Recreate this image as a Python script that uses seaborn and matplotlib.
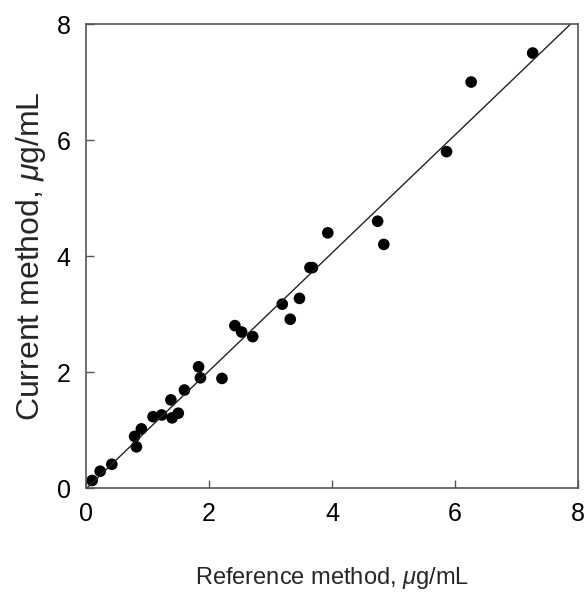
import numpy as np
import pandas as pd
import matplotlib
matplotlib.use("Agg")
import matplotlib.pyplot as plt
import seaborn as sns

# values
reference = [0.10, 0.23, 0.42, 0.79, 0.82, 0.90, 1.09, 1.23, 1.38, 1.40, 1.50,
             1.60, 1.83, 1.86, 2.21, 2.42, 2.53, 2.71, 3.19, 3.32, 3.47, 3.64,
             3.68, 3.93, 4.74, 4.84, 5.86, 6.26, 7.26]
current = [0.13, 0.29, 0.41, 0.89, 0.71, 1.02, 1.23, 1.26, 1.52, 1.21, 1.29,
           1.69, 2.09, 1.90, 1.89, 2.80, 2.69, 2.61, 3.17, 2.91, 3.27, 3.80,
           3.80, 4.40, 4.60, 4.20, 5.80, 7.00, 7.50]
ticks = [0, 2, 4, 6, 8]

data = pd.DataFrame({"reference": reference, "current": current})

sns.set_style("ticks")
plt.rcParams["font.family"] = ["Liberation Sans", "DejaVu Sans"]
plt.rcParams["mathtext.fontset"] = "custom"
plt.rcParams["mathtext.rm"] = "Liberation Sans"
plt.rcParams["mathtext.it"] = "Liberation Sans:italic"

fig = plt.figure(figsize=(5.87, 5.93), dpi=100)
ax = fig.add_axes([0.1465, 0.177, 0.8385, 0.7825])
ax.set_xlim(0, 8)
ax.set_ylim(0, 8)

sns.regplot(x="reference", y="current", data=data, ci=None, truncate=False,
            scatter_kws={"s": 70, "color": "black", "edgecolors": "none", "alpha": 1},
            line_kws={"color": "#222222", "linewidth": 1.0}, ax=ax)

ax.set_xlim(0, 8)
ax.set_ylim(0, 8)
ax.set_xticks(ticks)
ax.set_yticks(ticks)
ax.tick_params(direction="in", length=6, width=1, colors="#555555",
               labelcolor="black", labelsize=18)
ax.tick_params(axis="x", pad=10)
ax.tick_params(axis="y", pad=11)
for s in ax.spines.values():
    s.set_visible(True)
    s.set_color("#555555")
    s.set_linewidth(1.2)

ax.set_xlabel(r"Reference method, $\mu$g/mL", fontsize=17, labelpad=28)
ax.set_ylabel(r"Current method, $\mu$g/mL", fontsize=23, labelpad=6)

fig.savefig("out.png", dpi=100)
